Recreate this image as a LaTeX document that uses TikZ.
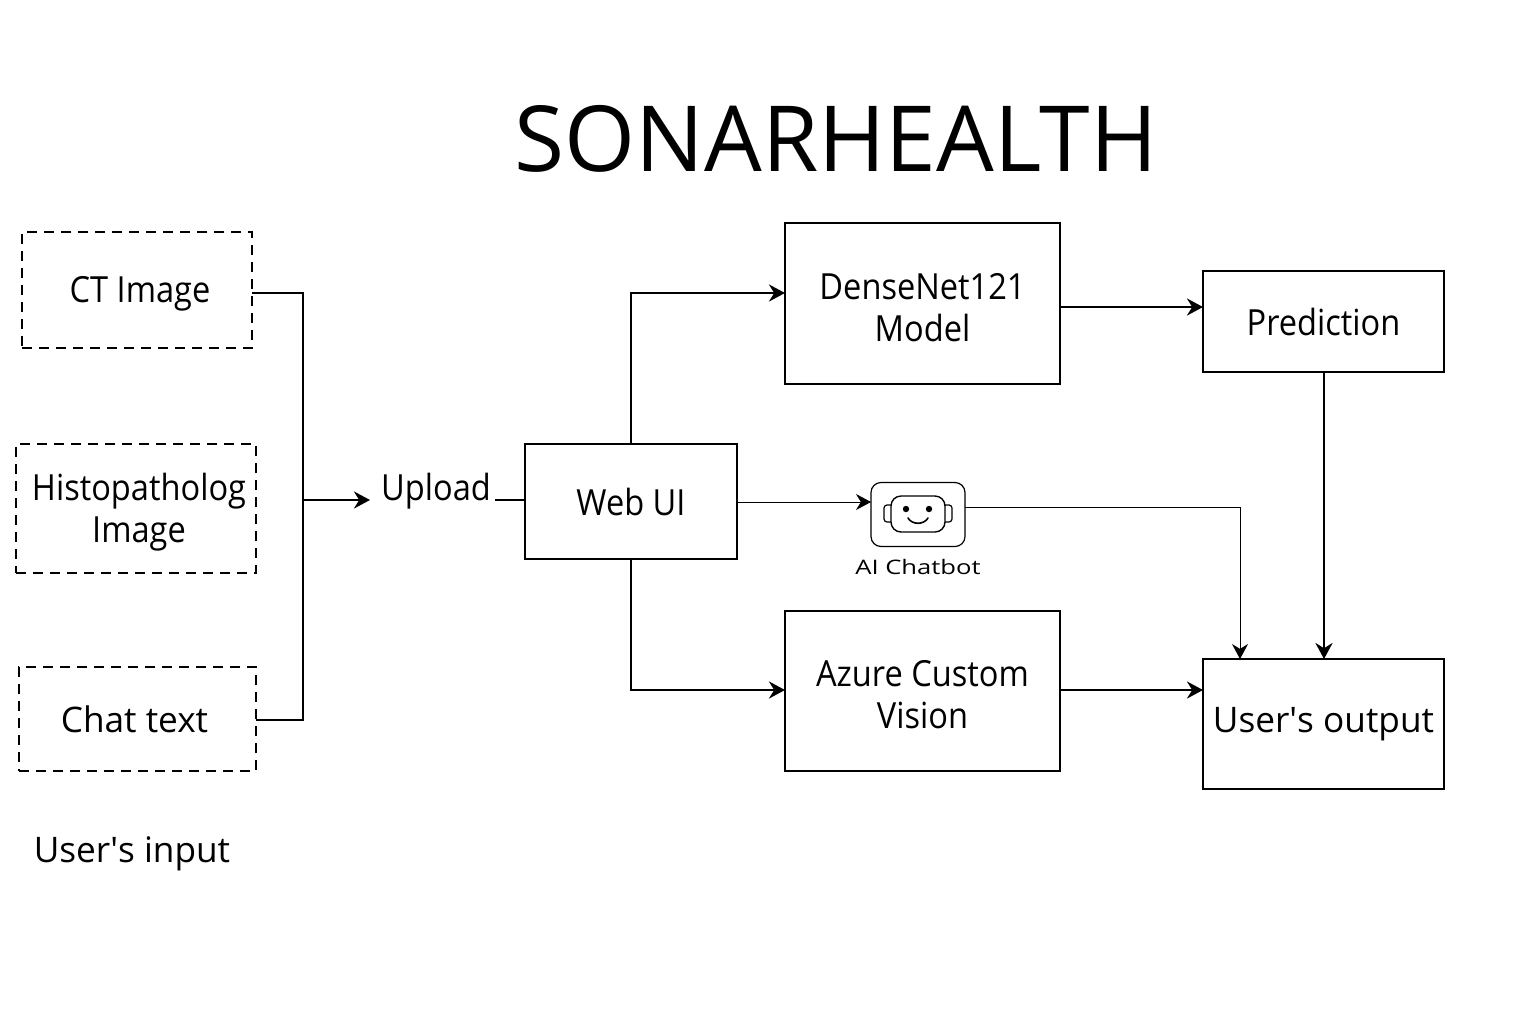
\documentclass[tikz,border=0pt]{standalone}
\usepackage{fontspec}
\setmainfont{Open Sans}
\newfontfamily\slimfont[FakeStretch=0.905]{Open Sans}
\usetikzlibrary{positioning,arrows.meta}

\newcommand{\drop}{\rule{0pt}{17pt}}
\newcommand{\nudge}{\hspace*{3pt}}

\tikzset{
  box/.style={draw, line width=1.3pt, outer sep=0pt, inner sep=0pt, align=center, font=\fontsize{18}{21}\selectfont\slimfont},
  inputbox/.style={box, line width=1pt, dash pattern=on 5pt off 3.5pt},
  link/.style={line width=1.25pt, -{Stealth[length=8pt,width=8.5pt]}},
  plainlink/.style={line width=1.25pt},
  thinlink/.style={line width=0.45pt, -{Stealth[length=7.5pt,width=8pt]}},
  bigtext/.style={font=\fontsize{17.6}{21}\selectfont}
}

\begin{document}
\begin{tikzpicture}[x=0.5pt,y=-0.5pt]
\useasboundingbox (0,0) rectangle (1536,1024);

\node[font=\fontsize{45.6}{50}\selectfont] (title) at (836,139) {SONARHEALTH};

% input side
\node[inputbox, minimum width=115pt, minimum height=58pt] (ct) at (137,290) {\drop\nudge CT Image};
\node[inputbox, minimum width=120pt, minimum height=64.5pt, below=48pt of ct, xshift=-0.5pt] (histo) {\drop\nudge Histopatholog\\\nudge Image};
\node[inputbox, bigtext, minimum width=118.5pt, minimum height=52pt, below=47pt of histo, xshift=0.75pt] (chat) {Chat text\hspace*{3pt}};
\node[bigtext] (userin) at (132,854) {User\textquotesingle s input};
\node[font=\fontsize{18}{21}\selectfont\slimfont] (upload) at (436,491) {Upload};

% main boxes
\node[box, minimum width=106pt, minimum height=57.5pt] (webui) at (631,501.5) {Web UI};
\node[box, minimum width=137.5pt, minimum height=80.5pt, above right=30pt and 24pt of webui.north east] (dense) {\drop DenseNet121\\Model};
\node[box, minimum width=137.5pt, minimum height=80pt, below right=26pt and 24pt of webui.south east] (azure) {\drop Azure Custom\\Vision};
\node[box, line width=1pt, minimum width=120.5pt, minimum height=50.5pt, right=71.5pt of dense, yshift=-9pt] (pred) {Prediction};
\node[box, bigtext, minimum width=120.5pt, minimum height=65pt, below=143.5pt of pred] (output) {User\textquotesingle s output};

% chatbot icon
\node[draw, line width=0.6pt, rounded corners=5pt, outer sep=0pt, minimum width=47pt, minimum height=32pt, right=67pt of webui, yshift=-6.5pt] (bot) {};
\node[below=3pt of bot, font=\fontsize{10}{12}\selectfont, xscale=1.28] (botlabel) {AI Chatbot};
\draw[line width=0.6pt, rounded corners=1.5pt] (891,505) -- (884,505) -- (884,522) -- (891,522);
\draw[line width=0.6pt, rounded corners=1.5pt] (945,505) -- (952,505) -- (952,522) -- (945,522);
\draw[line width=0.7pt, rounded corners=5pt] (891,496) rectangle (945,532);
\fill (906,509) circle (3.2);
\fill (929,509) circle (3.2);
\draw[line width=0.8pt, line cap=round] (908,518) .. controls (912,525) and (924,525) .. (928,518);

% connect nodes
\coordinate (bus) at (303,500);
\coordinate (ctout) at (252,293);
\coordinate (chatout) at (256,720);
\draw[plainlink] (ctout) -| (bus) |- (chatout);
\draw[link] (bus) -- (370,500);
\draw[plainlink] (495,500) -- (webui.west |- 495,500);
\draw[link] (webui.north) |- (dense.west |- 0,293);
\draw[link] (webui.south) |- (azure.west |- 0,690);
\draw[thinlink] (webui.east |- 0,502) -- (bot.west |- 0,502);
\draw[link] (dense.east |- 0,307) -- (pred.west |- 0,307);
\draw[link] (azure.east |- 0,690) -- (output.west |- 0,690);
\draw[link] (pred.south -| 1324,0) -- (output.north -| 1324,0);
\draw[thinlink] (bot.east |- 0,507) -| (output.north -| 1240,0);
\end{tikzpicture}
\end{document}
